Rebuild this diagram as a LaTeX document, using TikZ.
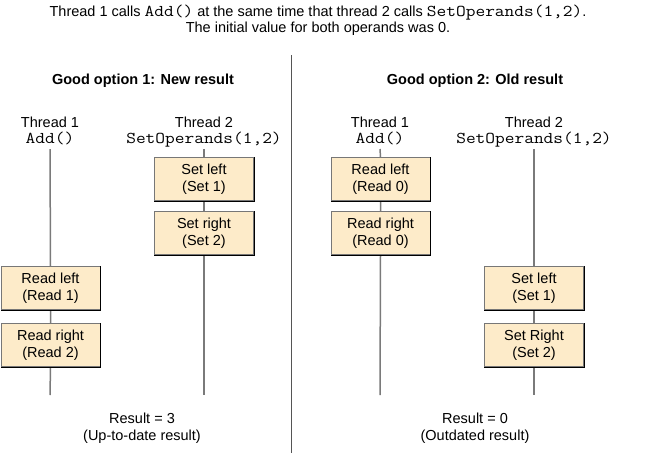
\documentclass[tikz,border=0pt]{standalone}
\usepackage{fontspec}
\setmainfont{Liberation Sans}
\newfontfamily\courfont[FakeStretch=1.143]{Latin Modern Mono}
\definecolor{boxfill}{HTML}{FDEBC9}
\definecolor{boxgray}{HTML}{777777}
\definecolor{thrgray}{HTML}{7A7A7A}
\definecolor{divgray}{HTML}{555555}
\newcommand{\mt}[1]{{\fontsize{16.5}{18}\selectfont\courfont #1}}
\begin{document}
\begin{tikzpicture}[x=1pt,y=-1pt,
  txt/.style={inner sep=0pt, font=\fontsize{14.5}{16}\selectfont, anchor=base},
  ttl/.style={inner sep=0pt, font=\fontsize{14.5}{16}\selectfont\bfseries, anchor=base},
  mono/.style={inner sep=0pt, font=\fontsize{16.5}{18}\selectfont\courfont, anchor=base},
  op/.style={draw=boxgray, fill=boxfill, minimum width=99pt, minimum height=43pt, inner sep=0pt, align=center, font=\fontsize{14.5}{16.5}\selectfont, line width=1pt},
  thr/.style={draw=thrgray, line width=1.5pt},
  divl/.style={draw=divgray, line width=1pt},
  edge/.style={draw=black, line width=1pt},
]
\useasboundingbox (0,0) rectangle (666,453);
% header
\node[txt] (h1) at (318,16) {Thread 1 calls \mt{Add()} at the same time that thread 2 calls \mt{SetOperands(1,2)}.};
\node[txt] (h2) at (318,32) {The initial value for both operands was 0.};
% divider
\coordinate (dtop) at (291.5,55);
\coordinate (dbot) at (291.5,453);
\draw[divl] (dtop) -- (dbot);
% titles
\node[ttl] (g1) at (143,84) {Good option 1: New result};
\node[ttl] (g2) at (475,84) {Good option 2: Old result};
% thread headers left
\node[txt] (lt1) at (50,127) {Thread 1};
\node[mono] (la1) at (50,143) {Add()};
\node[txt] (lt2) at (204,127) {Thread 2};
\node[mono] (la2) at (204,143) {SetOperands(1,2)};
% thread headers right
\node[txt] (rt1) at (380,127) {Thread 1};
\node[mono] (ra1) at (380,143) {Add()};
\node[txt] (rt2) at (534,127) {Thread 2};
\node[mono] (ra2) at (534,143) {SetOperands(1,2)};
% line end coordinates
\coordinate (l1top) at (50,149);  \coordinate (l1bot) at (50,395);
\coordinate (l2top) at (204,149); \coordinate (l2bot) at (204,395);
\coordinate (r1top) at (380,149); \coordinate (r1bot) at (380,395);
\coordinate (r2top) at (534,149); \coordinate (r2bot) at (534,395);
% boxes left
\node[op] (lrl) at (50.5,288) {Read left\\(Read 1)};
\node[op] (lrr) at (50.5,345) {Read right\\(Read 2)};
\node[op] (lsl) at (204,179) {Set left\\(Set 1)};
\node[op] (lsr) at (204,233) {Set right\\(Set 2)};
% boxes right
\node[op] (rrl) at (380.5,179) {Read left\\(Read 0)};
\node[op] (rrr) at (380.5,233) {Read right\\(Read 0)};
\node[op] (rsl) at (534,288) {Set left\\(Set 1)};
\node[op] (rsr) at (534,345) {Set Right\\(Set 2)};
% thread lines
\draw[thr] (l1top) -- (lrl.north) (lrl.south) -- (lrr.north) (lrr.south) -- (l1bot);
\draw[thr] (l2top) -- (lsl.north) (lsl.south) -- (lsr.north) (lsr.south) -- (l2bot);
\draw[thr] (r1top) -- (rrl.north) (rrl.south) -- (rrr.north) (rrr.south) -- (r1bot);
\draw[thr] (r2top) -- (rsl.north) (rsl.south) -- (rsr.north) (rsr.south) -- (r2bot);
% dark bottom/right edges of boxes
\foreach \b in {lrl,lrr,lsl,lsr,rrl,rrr,rsl,rsr}{
  \draw[edge] (\b.north east) -- (\b.south east) -- (\b.south west);
}
% results
\node[txt] (res1) at (142,423) {Result = 3};
\node[txt] (res1b) at (142,440) {(Up-to-date result)};
\node[txt] (res2) at (475,423) {Result = 0};
\node[txt] (res2b) at (475,440) {(Outdated result)};
\end{tikzpicture}
\end{document}
